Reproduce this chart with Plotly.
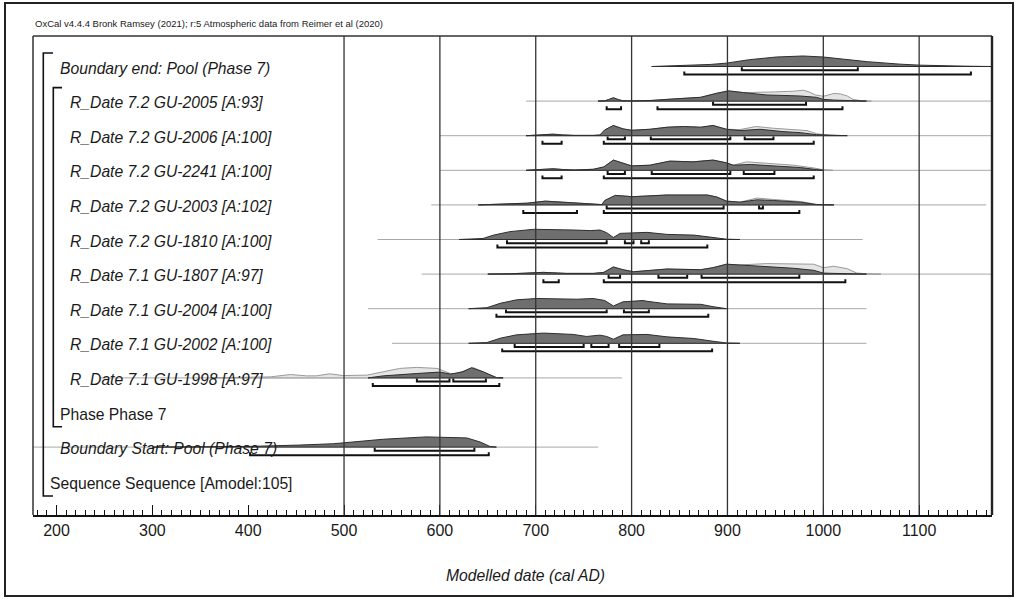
import plotly.graph_objects as go

# ---------------- text ----------------
HEADER = "OxCal v4.4.4 Bronk Ramsey (2021); r:5 Atmospheric data from Reimer et al (2020)"
AXIS_TITLE = "Modelled date (cal AD)"

ROW_LABELS = [
    "Boundary end: Pool (Phase 7)",
    "R_Date 7.2 GU-2005 [A:93]",
    "R_Date 7.2 GU-2006 [A:100]",
    "R_Date 7.2 GU-2241 [A:100]",
    "R_Date 7.2 GU-2003 [A:102]",
    "R_Date 7.2 GU-1810 [A:100]",
    "R_Date 7.1 GU-1807 [A:97]",
    "R_Date 7.1 GU-2004 [A:100]",
    "R_Date 7.1 GU-2002 [A:100]",
    "R_Date 7.1 GU-1998 [A:97]",
    "Phase Phase 7",
    "Boundary Start: Pool (Phase 7)",
    "Sequence Sequence [Amodel:105]",
]
ROW_ITALIC = [True] * 10 + [False, True, False]
ROW_LABEL_PX = [58, 68, 68, 68, 68, 68, 68, 68, 68, 68, 58, 58, 48]

TICK_YEARS = [200, 300, 400, 500, 600, 700, 800, 900, 1000, 1100]
GRID_YEARS = [500, 600, 700, 800, 900, 1000, 1100]

# ---------------- distributions (cal AD, relative probability) ----------------
END_YR = [821, 854, 882, 899, 923, 951, 979, 1000, 1018, 1046, 1080, 1101, 1150, 1176]
END_POST = [0, 1, 2, 3.3, 6.7, 9.3, 10.3, 9.3, 7.3, 4.7, 2.3, 1.3, 0.3, 0.1]
END_R68 = [(915, 1036)]
END_R95 = [(855, 1154)]
END_SPAN = (821, 1176)

GU2005_YR = [765, 772, 776, 781, 786, 791, 800, 820, 837, 855, 872, 889, 901, 917, 941, 960, 976, 993, 1000, 1011, 1031, 1045]
GU2005_POST = [0, 0.3, 1.5, 3.3, 1.5, 0.3, 0.2, 0.6, 1.7, 2.5, 3.7, 7.7, 10, 8.3, 6, 5.5, 5, 3.7, 1.7, 1, 0.3, 0]
GU2005_LIKE_YR = [765, 772, 776, 781, 786, 791, 800, 820, 837, 855, 872, 889, 901, 917, 934, 950, 969, 979, 985, 992, 1000, 1005, 1011, 1018, 1025, 1031, 1040, 1050]
GU2005_LIKE = [0, 0.3, 1.5, 3.3, 1.5, 0.3, 0.2, 0.6, 1.7, 2.5, 3.7, 7.7, 10, 8.3, 8.5, 9, 9.7, 10.7, 9, 6, 4.7, 6, 7.5, 7, 5, 1.7, 0.3, 0]
GU2005_R68 = [(885, 982)]
GU2005_R95 = [(774, 789), (827, 1020)]
GU2005_SPAN = (690, 1176)

GU2006_YR = [690, 700, 708, 718, 728, 740, 760, 767, 772, 781, 791, 800, 819, 837, 854, 872, 885, 899, 913, 934, 958, 976, 993, 1011, 1025]
GU2006_POST = [0, 0.3, 1.2, 1.5, 0.8, 0.3, 0.3, 0.7, 5.7, 10, 6.7, 5.3, 6.3, 8.3, 9, 8.3, 10, 6.3, 5, 6.3, 4, 3, 1, 0.3, 0]
GU2006_LIKE_YR = [690, 700, 708, 718, 728, 740, 760, 767, 772, 781, 791, 800, 819, 837, 854, 872, 885, 899, 913, 930, 948, 969, 983, 993, 1005, 1020]
GU2006_LIKE = [0, 0.3, 1.2, 1.5, 0.8, 0.3, 0.3, 0.7, 5.7, 10, 6.7, 5.3, 6.3, 8.3, 9, 8.3, 10, 6.3, 6, 9, 7.3, 6.3, 5, 2, 0.5, 0]
GU2006_R68 = [(775, 793), (820, 903), (918, 948)]
GU2006_R95 = [(707, 727), (771, 990)]
GU2006_SPAN = (600, 1176)

GU2241_YR = [690, 700, 708, 718, 728, 740, 760, 771, 781, 791, 800, 819, 840, 864, 885, 899, 906, 924, 951, 976, 993, 1000]
GU2241_POST = [0, 0.3, 1.2, 1.5, 0.8, 0.3, 1, 3.3, 10, 6.7, 4.3, 5, 9, 8.3, 10, 7.3, 5, 5.7, 4, 2.7, 0.7, 0]
GU2241_LIKE_YR = [690, 700, 708, 718, 728, 740, 760, 771, 781, 791, 800, 819, 840, 864, 885, 899, 906, 920, 948, 969, 990, 1000, 1010]
GU2241_LIKE = [0, 0.3, 1.2, 1.5, 0.8, 0.3, 1, 3.3, 10, 6.7, 4.3, 5, 9, 8.3, 10, 7.3, 5, 8.3, 6.7, 5, 2.3, 0.5, 0]
GU2241_R68 = [(775, 793), (821, 903), (917, 949)]
GU2241_R95 = [(707, 727), (771, 990)]
GU2241_SPAN = (600, 1176)

GU2003_YR = [640, 666, 691, 710, 732, 760, 769, 772, 783, 795, 800, 837, 879, 889, 899, 913, 931, 948, 976, 993, 1011]
GU2003_POST = [0, 1, 1.7, 3.7, 2.7, 1, 0.3, 4.3, 9.3, 8.5, 8, 9.7, 9.7, 7.7, 3.7, 2.7, 5, 4.3, 2.7, 0.3, 0]
GU2003_LIKE_YR = [640, 666, 691, 710, 732, 760, 769, 772, 783, 795, 800, 837, 879, 889, 899, 913, 931, 948, 976, 993, 1011]
GU2003_LIKE = [0, 1, 1.7, 3.7, 2.7, 1, 0.3, 4.3, 9.3, 8.5, 8, 9.7, 9.7, 7.7, 3.7, 2.7, 6.7, 5.3, 3.3, 0.5, 0]
GU2003_R68 = [(774, 896), (933, 937)]
GU2003_R95 = [(687, 743), (771, 975)]
GU2003_SPAN = (591, 1170)

GU1810_YR = [620, 645, 656, 673, 698, 725, 739, 757, 767, 774, 781, 788, 805, 816, 837, 865, 885, 899, 913]
GU1810_POST = [0, 1, 4.3, 7.7, 10, 10, 9.3, 8.7, 9.3, 6.7, 2, 6, 7, 7, 5, 4.3, 2, 0.3, 0]
GU1810_R68 = [(670, 774), (793, 802), (810, 818)]
GU1810_R95 = [(660, 879)]
GU1810_SPAN = (535, 1041)

GU1807_YR = [650, 673, 708, 732, 760, 771, 781, 791, 802, 837, 872, 885, 899, 913, 941, 969, 990, 1000, 1011, 1031, 1045]
GU1807_POST = [0, 0.3, 1.7, 0.7, 0.7, 1.7, 7, 4.3, 2.3, 5, 4.3, 6.3, 9.7, 9, 7, 5.7, 3.7, 1, 0.7, 0.2, 0]
GU1807_LIKE_YR = [650, 673, 708, 732, 760, 771, 781, 791, 802, 837, 872, 885, 899, 913, 941, 962, 990, 1000, 1011, 1025, 1035, 1046, 1060]
GU1807_LIKE = [0, 0.3, 1.7, 0.7, 0.7, 1.7, 7, 4.3, 2.3, 5, 4.3, 6.3, 9.7, 9, 10.3, 10.3, 9.7, 6.3, 7.7, 5.3, 1, 0.3, 0]
GU1807_R68 = [(776, 788), (828, 858), (873, 975)]
GU1807_R95 = [(708, 724), (771, 1023)]
GU1807_SPAN = (581, 1176)

GU2004_YR = [630, 649, 663, 680, 701, 725, 743, 760, 772, 781, 791, 812, 816, 837, 872, 885, 899]
GU2004_POST = [0, 1, 5.3, 8.7, 10, 9.3, 9.3, 10, 8, 2.7, 6.7, 8, 7.3, 4.7, 4.3, 2, 0]
GU2004_R68 = [(669, 774), (792, 818)]
GU2004_R95 = [(659, 880)]
GU2004_SPAN = (525, 1045)

GU2002_YR = [630, 649, 663, 680, 708, 725, 739, 753, 767, 774, 781, 791, 812, 816, 837, 865, 885, 899, 913]
GU2002_POST = [0, 0.7, 5, 8.3, 10, 9.3, 8.7, 6.7, 8, 6.7, 4, 8.3, 9, 8.7, 6.3, 4.7, 2, 0.3, 0]
GU2002_R68 = [(678, 750), (758, 776), (787, 829)]
GU2002_R95 = [(665, 884)]
GU2002_SPAN = (550, 1045)

GU1998_YR = [525, 541, 576, 600, 611, 624, 633, 645, 659, 666]
GU1998_POST = [0, 2, 4.3, 5.7, 3.7, 6, 10, 6, 0.3, 0]
GU1998_LIKE_YR = [360, 380, 402, 423, 444, 461, 471, 485, 499, 524, 541, 558, 576, 597, 611, 618, 631, 635, 645, 659, 666]
GU1998_LIKE = [0, 0.3, 0.3, 1, 3.3, 2, 2, 4, 2.3, 2.7, 6, 9.3, 10.3, 9.3, 4.3, 4.3, 9, 10, 6, 0.3, 0]
GU1998_R68 = [(576, 610), (614, 648)]
GU1998_R95 = [(530, 662)]
GU1998_SPAN = (245, 790)

START_YR = [300, 350, 402, 454, 489, 541, 586, 597, 628, 642, 652, 659]
START_POST = [0, 0.3, 0.7, 2, 3.3, 7.7, 10, 9.7, 9, 5, 0.7, 0]
START_R68 = [(532, 636)]
START_R95 = [(402, 651)]
START_SPAN = (175, 765)

# row index -> (posterior, likelihood, ranges, span)
ROWS = [
    (0, (END_YR, END_POST), None, END_R68, END_R95, END_SPAN),
    (1, (GU2005_YR, GU2005_POST), (GU2005_LIKE_YR, GU2005_LIKE), GU2005_R68, GU2005_R95, GU2005_SPAN),
    (2, (GU2006_YR, GU2006_POST), (GU2006_LIKE_YR, GU2006_LIKE), GU2006_R68, GU2006_R95, GU2006_SPAN),
    (3, (GU2241_YR, GU2241_POST), (GU2241_LIKE_YR, GU2241_LIKE), GU2241_R68, GU2241_R95, GU2241_SPAN),
    (4, (GU2003_YR, GU2003_POST), (GU2003_LIKE_YR, GU2003_LIKE), GU2003_R68, GU2003_R95, GU2003_SPAN),
    (5, (GU1810_YR, GU1810_POST), None, GU1810_R68, GU1810_R95, GU1810_SPAN),
    (6, (GU1807_YR, GU1807_POST), (GU1807_LIKE_YR, GU1807_LIKE), GU1807_R68, GU1807_R95, GU1807_SPAN),
    (7, (GU2004_YR, GU2004_POST), None, GU2004_R68, GU2004_R95, GU2004_SPAN),
    (8, (GU2002_YR, GU2002_POST), None, GU2002_R68, GU2002_R95, GU2002_SPAN),
    (9, (GU1998_YR, GU1998_POST), (GU1998_LIKE_YR, GU1998_LIKE), GU1998_R68, GU1998_R95, GU1998_SPAN),
    (11, (START_YR, START_POST), None, START_R68, START_R95, START_SPAN),
]

# ---------------- geometry ----------------
W, H = 1017, 599
BOX_L, BOX_R, BOX_T, BOX_B = 33, 992, 36, 515
X_RANGE = [175.5, 1176.0]
ROW0_PX, ROW_STEP_PX = 66.5, 34.6
AMP = 0.0295           # row units per unit of relative probability
R68_OFF, R95_OFF, BRK_TICK = 0.105, 0.232, 0.085


def row_y_from_px(py):
    return -(py - ROW0_PX) / ROW_STEP_PX


def paper_x(px):
    return (px - BOX_L) / (BOX_R - BOX_L)


def paper_y(py):
    return (BOX_B - py) / (BOX_B - BOX_T)


POST_FILL, POST_LINE = "#6f6f6f", "#2e2e2e"
LIKE_FILL, LIKE_LINE = "#e4e4e4", "#9a9a9a"
SPAN_LINE = "#a8a8a8"
INK = "#111111"
TEXT = "#1a1a1a"
FONT = "Liberation Sans, Arial"

fig = go.Figure()


def area(xs, ps, base, fill, line):
    top = [base + AMP * p for p in ps]
    fig.add_trace(go.Scatter(
        x=list(xs) + list(xs)[::-1], y=top + [base] * len(xs),
        fill="toself", fillcolor=fill, mode="lines",
        line=dict(color=line, width=1), hoverinfo="skip", showlegend=False))


for idx, post, like, r68, r95, span in ROWS:
    base = -idx
    fig.add_trace(go.Scatter(x=list(span), y=[base, base], mode="lines",
                             line=dict(color=SPAN_LINE, width=1),
                             hoverinfo="skip", showlegend=False))
    if like is not None:
        area(like[0], like[1], base, LIKE_FILL, LIKE_LINE)
    area(post[0], post[1], base, POST_FILL, POST_LINE)
    bx, by = [], []
    for ranges, off in ((r68, R68_OFF), (r95, R95_OFF)):
        yb = base - off
        for lo, hi in ranges:
            bx += [lo, lo, hi, hi, None]
            by += [yb + BRK_TICK, yb, yb, yb + BRK_TICK, None]
    fig.add_trace(go.Scatter(x=bx, y=by, mode="lines",
                             line=dict(color=INK, width=2),
                             hoverinfo="skip", showlegend=False))

# row labels
annotations = []
for i, (txt, ital, lx) in enumerate(zip(ROW_LABELS, ROW_ITALIC, ROW_LABEL_PX)):
    annotations.append(dict(
        x=paper_x(lx), xref="paper", xanchor="left",
        y=-i - 0.045, yref="y", yanchor="middle",
        text=txt, showarrow=False,
        font=dict(family=FONT, size=15.7, color=TEXT,
                  style="italic" if ital else "normal")))

annotations.append(dict(
    x=paper_x(BOX_L), xref="paper", xanchor="left",
    y=paper_y(24), yref="paper", yanchor="middle",
    text=HEADER, showarrow=False,
    font=dict(family=FONT, size=9.5, color=TEXT)))
annotations.append(dict(
    x=paper_x(525), xref="paper", xanchor="center",
    y=paper_y(575), yref="paper", yanchor="middle",
    text=AXIS_TITLE, showarrow=False,
    font=dict(family=FONT, size=15.7, color=TEXT, style="italic")))

shapes = []
for g in GRID_YEARS:
    shapes.append(dict(type="line", xref="x", yref="paper", x0=g, x1=g, y0=0, y1=1,
                       line=dict(color="#333333", width=1.3), layer="above"))
# plot box
shapes.append(dict(type="line", xref="paper", yref="paper", x0=0, x1=1, y0=1, y1=1,
                   line=dict(color="#333333", width=1.3)))
shapes.append(dict(type="line", xref="paper", yref="paper", x0=0, x1=0, y0=0, y1=1,
                   line=dict(color="#333333", width=1.5)))
shapes.append(dict(type="line", xref="paper", yref="paper", x0=1, x1=1, y0=0, y1=1,
                   line=dict(color="#222222", width=2.4)))
# outer frame
shapes.append(dict(type="rect", xref="paper", yref="paper",
                   x0=paper_x(5), x1=paper_x(1013), y0=paper_y(596), y1=paper_y(3),
                   line=dict(color="#222222", width=2)))


# nesting brackets: Sequence (rows 0..12) and Phase (rows 1..10)
def nest_bracket(px_v, px_h, first, last):
    yt = row_y_from_px(ROW0_PX + ROW_STEP_PX * first - 13.5)
    yb = row_y_from_px(ROW0_PX + ROW_STEP_PX * last + 14.3)
    return dict(type="path", xref="paper", yref="y",
                path=f"M {paper_x(px_h)},{yt} L {paper_x(px_v)},{yt} L {paper_x(px_v)},{yb} L {paper_x(px_h)},{yb}",
                line=dict(color=INK, width=1.6))


shapes.append(nest_bracket(43.3, 53, 0, 12))
shapes.append(nest_bracket(53.3, 62, 1, 10))

fig.update_layout(
    width=W, height=H,
    margin=dict(l=BOX_L, r=W - BOX_R, t=BOX_T, b=H - BOX_B),
    paper_bgcolor="white", plot_bgcolor="white",
    showlegend=False,
    annotations=annotations, shapes=shapes,
    xaxis=dict(range=X_RANGE, tickmode="array", tickvals=TICK_YEARS,
               ticktext=[str(t) for t in TICK_YEARS],
               showgrid=False, zeroline=False,
               showline=True, linecolor=INK, linewidth=2,
               ticks="inside", ticklen=10, tickwidth=1.3, tickcolor=INK,
               minor=dict(ticks="inside", ticklen=5, tickwidth=1, tickcolor=INK,
                          dtick=10, tick0=0, showgrid=False),
               ticklabelstandoff=0,
               tickfont=dict(family=FONT, size=16, color=TEXT)),
    yaxis=dict(range=[row_y_from_px(BOX_B), row_y_from_px(BOX_T)],
               visible=False, showgrid=False, zeroline=False),
)

fig.write_html("out.html")
